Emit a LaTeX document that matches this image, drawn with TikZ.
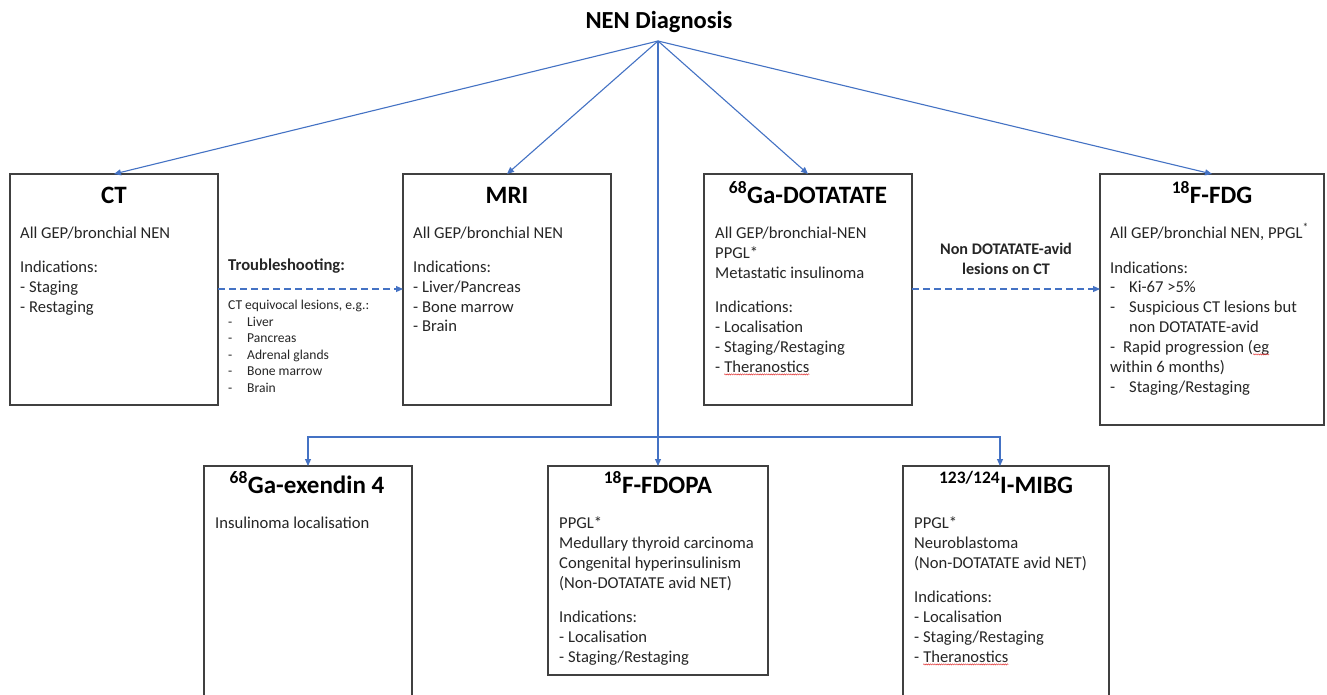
\documentclass[tikz,border=0pt]{standalone}
\usepackage{fontspec}
\setmainfont{Carlito}
\usetikzlibrary{arrows.meta,decorations.pathmorphing}
\definecolor{arrblue}{HTML}{4472C4}
\definecolor{boxgray}{HTML}{404040}
\definecolor{squigred}{HTML}{E03030}
\definecolor{bodytext}{HTML}{262626}
\newcommand\squig[1]{\tikz[baseline=(sq.base)]{\node[inner sep=0pt,outer sep=0pt,anchor=base](sq){#1};\draw[squigred,line width=0.45pt,decorate,decoration={snake,amplitude=0.6pt,segment length=2.2pt}]([yshift=-2.4pt]sq.base west)--([yshift=-2.4pt]sq.base east);}}
\begin{document}
\begin{tikzpicture}[x=1pt,y=-1pt,
  box/.style={draw=boxgray,line width=1.1pt,inner sep=0pt,outer sep=0pt,anchor=north west},
  ttl/.style={font=\fontsize{25}{30}\selectfont\bfseries,anchor=base,inner sep=0pt,text=black},
  txt/.style={font=\fontsize{16.6}{20}\selectfont,anchor=base west,inner sep=0pt,text=bodytext},
  lbl/.style={font=\fontsize{16.2}{20}\selectfont\bfseries,anchor=base,inner sep=0pt,text=bodytext},
  sml/.style={font=\fontsize{13.6}{16.6}\selectfont,anchor=base west,inner sep=0pt,text=bodytext},
  arr/.style={draw=arrblue,line width=1.1pt,-{Triangle[length=7pt,width=6pt]}},
  darr/.style={arr,dash pattern=on 7pt off 4pt}]
\clip (0,0) rectangle (1327,694);
\fill[white] (0,0) rectangle (1327,694);

% title
\node[ttl,font=\fontsize{24.5}{30}\selectfont\bfseries] (title) at (659,28) {NEN Diagnosis};
\coordinate (src) at (658,41);

% boxes
\node[box,minimum width=208pt,minimum height=231pt] (ct) at (10,174) {};
\node[box,minimum width=208pt,minimum height=231pt] (mri) at (403,174) {};
\node[box,minimum width=208pt,minimum height=231pt] (dot) at (704,174) {};
\node[box,minimum width=224pt,minimum height=251pt] (fdg) at (1100,174) {};
\node[box,minimum width=208pt,minimum height=260pt] (exen) at (204,466) {};
\node[box,minimum width=220pt,minimum height=209pt] (fdopa) at (548,466) {};
\node[box,minimum width=206pt,minimum height=260pt] (mibg) at (903,466) {};

% box titles
\node[ttl] (ct-t) at (114,203) {CT};
\node[ttl] (mri-t) at (507,203) {MRI};
\node[ttl] (dot-t) at (808,203) {\textsuperscript{68}Ga-DOTATATE};
\node[ttl] (fdg-t) at (1212,203) {\textsuperscript{18}F-FDG};
\node[ttl] (exen-t) at (307,493) {\textsuperscript{68}Ga-exendin 4};
\node[ttl] (fdopa-t) at (658,493) {\textsuperscript{18}F-FDOPA};
\node[ttl] (mibg-t) at (1006,493) {\textsuperscript{123/124}I-MIBG};

% CT text
\node[txt] (ct-1) at (20,238) {All GEP/bronchial NEN};
\node[txt] (ct-2) at (20,272) {Indications:};
\node[txt] (ct-3) at (20,292) {- Staging};
\node[txt] (ct-4) at (20,312) {- Restaging};

% MRI text
\node[txt] (mri-1) at (413,238) {All GEP/bronchial NEN};
\node[txt] (mri-2) at (413,272) {Indications:};
\node[txt] (mri-3) at (413,292) {- Liver/Pancreas};
\node[txt] (mri-4) at (413,312) {- Bone marrow};
\node[txt] (mri-5) at (413,331) {- Brain};

% DOTATATE text
\node[txt] (dot-1) at (715,238) {All GEP/bronchial-NEN};
\node[txt] (dot-2) at (715,258) {PPGL*};
\node[txt] (dot-3) at (715,278) {Metastatic insulinoma};
\node[txt] (dot-4) at (715,312) {Indications:};
\node[txt] (dot-5) at (715,332) {- Localisation};
\node[txt] (dot-6) at (715,352) {- Staging/Restaging};
\node[txt] (dot-7) at (715,372) {- \squig{Theranostics}};

% FDG text
\node[txt] (fdg-1) at (1110,238) {All GEP/bronchial NEN, PPGL\textsuperscript{*}};
\node[txt] (fdg-2) at (1110,273) {Indications:};
\node[txt] (fdg-3) at (1110,292) {\makebox[19pt][l]{-}Ki-67 >5\%};
\node[txt] (fdg-4) at (1110,312) {\makebox[19pt][l]{-}Suspicious CT lesions but};
\node[txt] (fdg-5) at (1129,332) {non DOTATATE-avid};
\node[txt] (fdg-6) at (1110,352) {\makebox[13pt][l]{-}Rapid progression (\squig{eg}};
\node[txt] (fdg-7) at (1110,372) {within 6 months)};
\node[txt] (fdg-8) at (1110,392) {\makebox[19pt][l]{-}Staging/Restaging};

% troubleshooting label
\node[txt,font=\fontsize{16.6}{20}\selectfont\bfseries] (ts-1) at (228,270) {Troubleshooting:};
\node[sml] (ts-2) at (228,309) {CT equivocal lesions, e.g.:};
\node[sml] (ts-3) at (228,326) {\makebox[19pt][l]{-}Liver};
\node[sml] (ts-4) at (228,342) {\makebox[19pt][l]{-}Pancreas};
\node[sml] (ts-5) at (228,359) {\makebox[19pt][l]{-}Adrenal glands};
\node[sml] (ts-6) at (228,375) {\makebox[19pt][l]{-}Bone marrow};
\node[sml] (ts-7) at (228,392) {\makebox[19pt][l]{-}Brain};

% non DOTATATE label
\node[lbl] (nd-1) at (1006,254) {Non DOTATATE-avid};
\node[lbl] (nd-2) at (1006,274) {lesions on CT};

% exendin text
\node[txt] (exen-1) at (215,528) {Insulinoma localisation};

% FDOPA text
\node[txt] (fdopa-1) at (559,528) {PPGL*};
\node[txt] (fdopa-2) at (559,548) {Medullary thyroid carcinoma};
\node[txt] (fdopa-3) at (559,568) {Congenital hyperinsulinism};
\node[txt] (fdopa-4) at (559,588) {(Non-DOTATATE avid NET)};
\node[txt] (fdopa-5) at (559,622) {Indications:};
\node[txt] (fdopa-6) at (559,642) {- Localisation};
\node[txt] (fdopa-7) at (559,662) {- Staging/Restaging};

% MIBG text
\node[txt] (mibg-1) at (914,528) {PPGL*};
\node[txt] (mibg-2) at (914,548) {Neuroblastoma};
\node[txt] (mibg-3) at (914,568) {(Non-DOTATATE avid NET)};
\node[txt] (mibg-4) at (914,602) {Indications:};
\node[txt] (mibg-5) at (914,622) {- Localisation};
\node[txt] (mibg-6) at (914,642) {- Staging/Restaging};
\node[txt] (mibg-7) at (914,662) {- \squig{Theranostics}};

% connectors
\draw[arr] (src) -- (ct.north);
\draw[arr] (src) -- (mri.north);
\draw[arr] (src) -- (dot.north);
\draw[arr] (src) -- (fdg.north);
\draw[arr] (src) -- (fdopa.north);
\coordinate (hl) at (0,437);
\coordinate (jn) at (fdopa.north |- hl);
\draw[arr] (jn) -| (exen.north);
\draw[arr] (jn) -| ([xshift=-6pt]mibg.north);
\coordinate (dy) at (0,289);
\draw[darr] (ct.east |- dy) -- (mri.west |- dy);
\draw[darr] (dot.east |- dy) -- (fdg.west |- dy);
\end{tikzpicture}
\end{document}
